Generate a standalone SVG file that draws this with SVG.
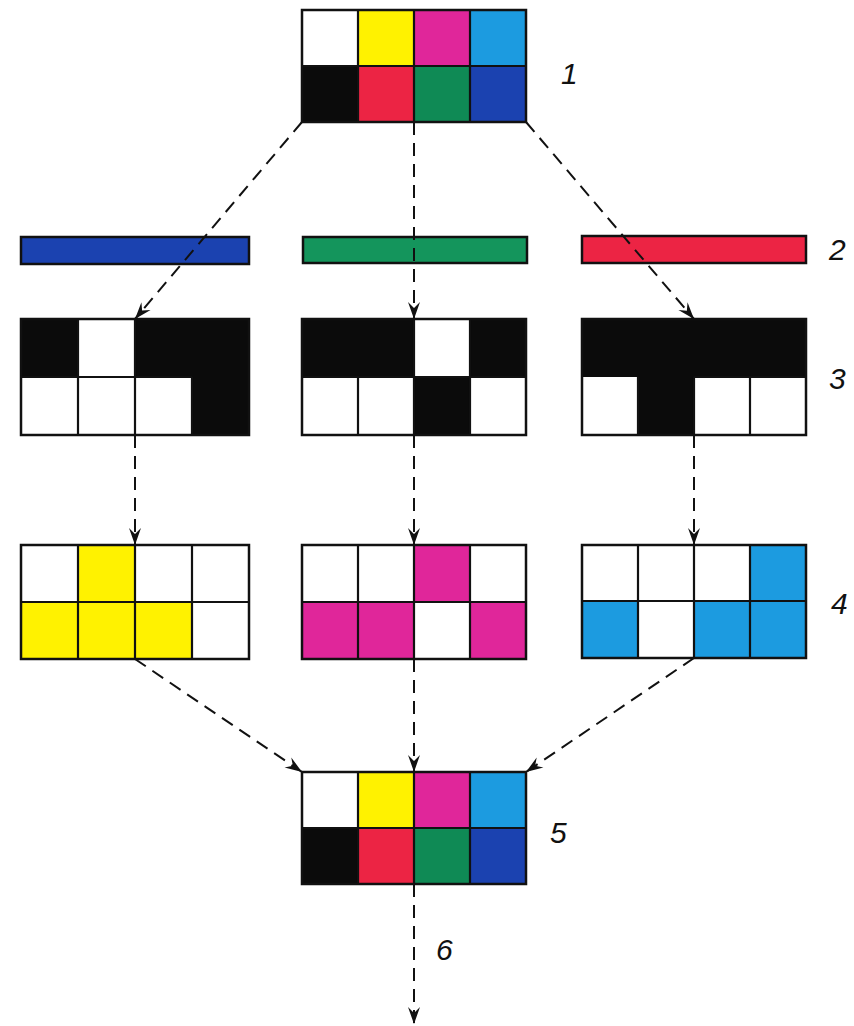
<svg xmlns="http://www.w3.org/2000/svg" width="854" height="1026" viewBox="0 0 854 1026">
<style>
.w{fill:#ffffff}.y{fill:#fff200}.m{fill:#e0269a}.c{fill:#1c9be0}.k{fill:#0b0b0b}.r{fill:#ec2444}.g{fill:#0f8a55}.b{fill:#1b42b0}
.o{fill:none;stroke:#111;stroke-width:2.5}
.l{stroke:#111;stroke-width:2.2}
.bar{stroke:#111;stroke-width:2.5}
.cn{fill:none;stroke:#111;stroke-width:2;stroke-dasharray:13 8}
.lab{font-family:"Liberation Sans",Arial,sans-serif;font-style:italic;font-size:30px;fill:#111}
</style>
<defs>
<marker id="ah" viewBox="-18 -7 19 14" markerWidth="19" markerHeight="14" refX="0" refY="0" orient="auto" markerUnits="userSpaceOnUse">
<path d="M0,0 L-17,-6 L-11,0 L-17,6 Z" fill="#111"/>
</marker>
</defs>
<rect width="854" height="1026" fill="#ffffff"/>

<g id="node1">
<rect class="w" x="302" y="10" width="56" height="56"/><rect class="y" x="358" y="10" width="56" height="56"/><rect class="m" x="414" y="10" width="56" height="56"/><rect class="c" x="470" y="10" width="56" height="56"/>
<rect class="k" x="302" y="66" width="56" height="56"/><rect class="r" x="358" y="66" width="56" height="56"/><rect class="g" x="414" y="66" width="56" height="56"/><rect class="b" x="470" y="66" width="56" height="56"/>
<path class="l" d="M358,10V122M414,10V122M470,10V122M302,66H526"/>
<rect class="o" x="302" y="10" width="224" height="112"/>
</g>

<g id="filter-blue"><rect class="b bar" x="21" y="237" width="228" height="27"/></g>
<g id="filter-green"><rect class="g bar" x="303" y="237" width="224" height="26" style="fill:#14955c"/></g>
<g id="filter-red"><rect class="r bar" x="582" y="236" width="224" height="27"/></g>

<g id="sep-left">
<rect class="k" x="21" y="319" width="228" height="116"/>
<rect class="w" x="78" y="319" width="57" height="58"/>
<rect class="w" x="21" y="377" width="57" height="58"/><rect class="w" x="78" y="377" width="57" height="58"/><rect class="w" x="135" y="377" width="57" height="58"/>
<path class="l" d="M78,319V435M135,319V435M192,377V435M21,377H192"/>
<rect class="o" x="21" y="319" width="228" height="116"/>
</g>
<g id="sep-middle">
<rect class="k" x="302" y="319" width="224" height="116"/>
<rect class="w" x="414" y="319" width="56" height="58"/>
<rect class="w" x="302" y="377" width="56" height="58"/><rect class="w" x="358" y="377" width="56" height="58"/><rect class="w" x="470" y="377" width="56" height="58"/>
<path class="l" d="M358,377V435M414,319V435M470,319V435M302,377H526"/>
<rect class="o" x="302" y="319" width="224" height="116"/>
</g>
<g id="sep-right">
<rect class="k" x="582" y="319" width="224" height="116"/>
<rect class="w" x="582" y="377" width="56" height="58"/><rect class="w" x="694" y="377" width="56" height="58"/><rect class="w" x="750" y="377" width="56" height="58"/>
<path class="l" d="M638,377V435M694,377V435M750,377V435M694,377H806"/>
<rect class="o" x="582" y="319" width="224" height="116"/>
</g>

<g id="print-yellow">
<rect class="w" x="21" y="545" width="57" height="57"/><rect class="y" x="78" y="545" width="57" height="57"/><rect class="w" x="135" y="545" width="57" height="57"/><rect class="w" x="192" y="545" width="57" height="57"/>
<rect class="y" x="21" y="602" width="57" height="57"/><rect class="y" x="78" y="602" width="57" height="57"/><rect class="y" x="135" y="602" width="57" height="57"/><rect class="w" x="192" y="602" width="57" height="57"/>
<path class="l" d="M78,545V659M135,545V659M192,545V659M21,602H249"/>
<rect class="o" x="21" y="545" width="228" height="114"/>
</g>
<g id="print-magenta">
<rect class="w" x="302" y="545" width="56" height="57"/><rect class="w" x="358" y="545" width="56" height="57"/><rect class="m" x="414" y="545" width="56" height="57"/><rect class="w" x="470" y="545" width="56" height="57"/>
<rect class="m" x="302" y="602" width="56" height="57"/><rect class="m" x="358" y="602" width="56" height="57"/><rect class="w" x="414" y="602" width="56" height="57"/><rect class="m" x="470" y="602" width="56" height="57"/>
<path class="l" d="M358,545V659M414,545V659M470,545V659M302,602H526"/>
<rect class="o" x="302" y="545" width="224" height="114"/>
</g>
<g id="print-cyan">
<rect class="w" x="582" y="545" width="56" height="56"/><rect class="w" x="638" y="545" width="56" height="56"/><rect class="w" x="694" y="545" width="56" height="56"/><rect class="c" x="750" y="545" width="56" height="56"/>
<rect class="c" x="582" y="601" width="56" height="57"/><rect class="w" x="638" y="601" width="56" height="57"/><rect class="c" x="694" y="601" width="56" height="57"/><rect class="c" x="750" y="601" width="56" height="57"/>
<path class="l" d="M638,545V658M694,545V658M750,545V658M582,601H806"/>
<rect class="o" x="582" y="545" width="224" height="113"/>
</g>

<g id="node5">
<rect class="w" x="302" y="772" width="56" height="56"/><rect class="y" x="358" y="772" width="56" height="56"/><rect class="m" x="414" y="772" width="56" height="56"/><rect class="c" x="470" y="772" width="56" height="56"/>
<rect class="k" x="302" y="828" width="56" height="56"/><rect class="r" x="358" y="828" width="56" height="56"/><rect class="g" x="414" y="828" width="56" height="56"/><rect class="b" x="470" y="828" width="56" height="56"/>
<path class="l" d="M358,772V884M414,772V884M470,772V884M302,828H526"/>
<rect class="o" x="302" y="772" width="224" height="112"/>
</g>

<g id="connectors">
<path class="cn" marker-end="url(#ah)" d="M302,122L135,319"/>
<path class="cn" marker-end="url(#ah)" d="M414,122L414,319"/>
<path class="cn" marker-end="url(#ah)" d="M526,122L694,319"/>
<path class="cn" marker-end="url(#ah)" d="M135,435L135,545"/>
<path class="cn" marker-end="url(#ah)" d="M414,435L414,545"/>
<path class="cn" marker-end="url(#ah)" d="M694,435L694,545"/>
<path class="cn" marker-end="url(#ah)" d="M135,659L302,772"/>
<path class="cn" marker-end="url(#ah)" d="M414,659L414,772"/>
<path class="cn" marker-end="url(#ah)" d="M694,658L526,772"/>
<path class="cn" marker-end="url(#ah)" d="M414,884L414,1024"/>
</g>

<g id="labels">
<text class="lab" x="561" y="84">1</text>
<text class="lab" x="829" y="260">2</text>
<text class="lab" x="829" y="389">3</text>
<text class="lab" x="831" y="614">4</text>
<text class="lab" x="550" y="843">5</text>
<text class="lab" x="436" y="960">6</text>
</g>
</svg>
